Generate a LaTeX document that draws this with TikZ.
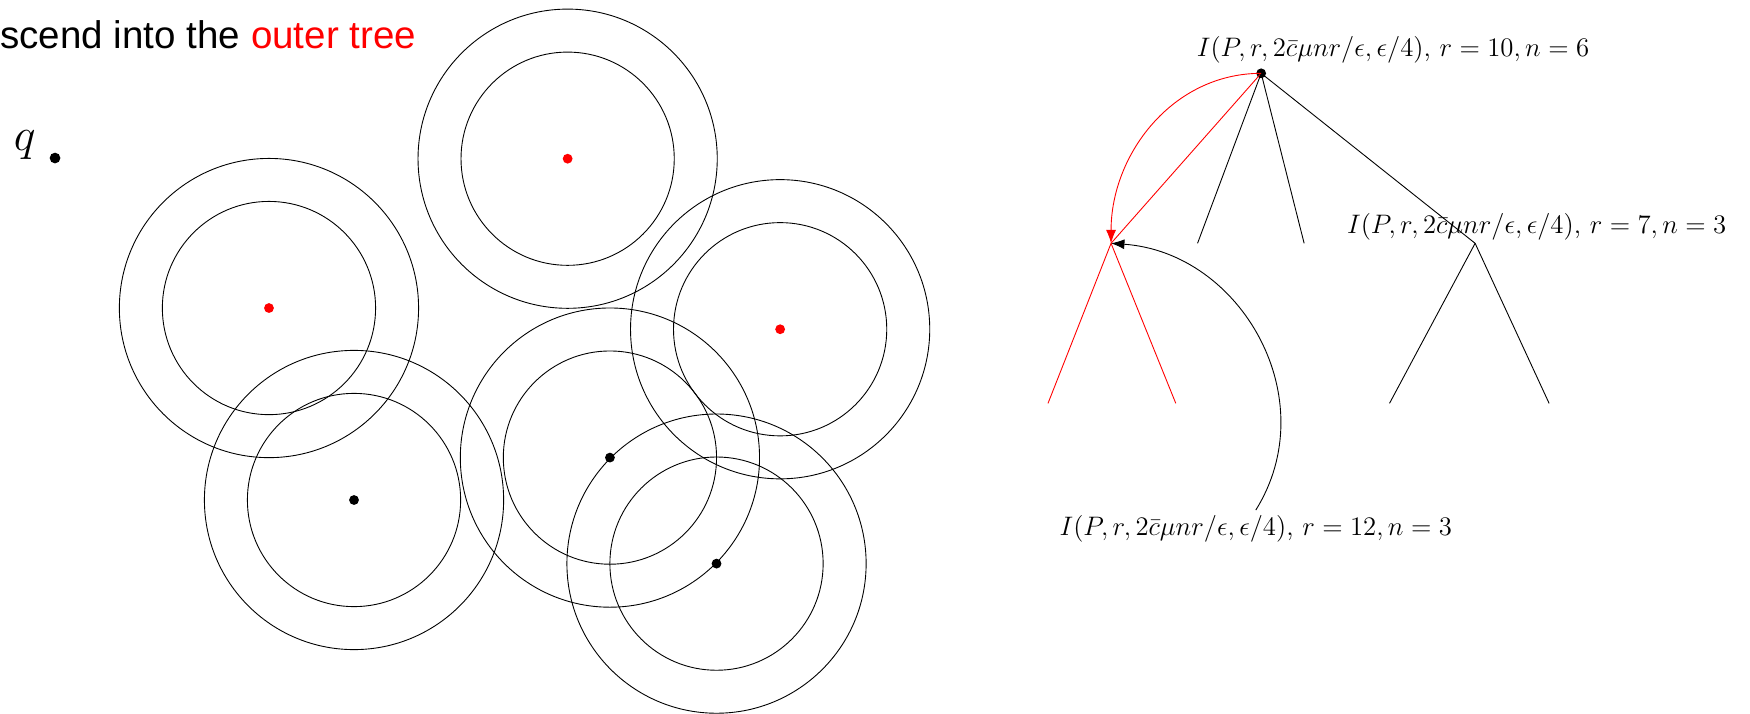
\documentclass[tikz,border=0pt]{standalone}
\usepackage{fontspec}
\setsansfont{Liberation Sans}
\usepackage{tikz}
\usetikzlibrary{arrows.meta}

\begin{document}
\begin{tikzpicture}[x=0.0176cm, y=0.0176cm,
    dot/.style={circle, fill, inner sep=0pt, minimum size=4.4pt},
    lbl/.style={anchor=base west, inner sep=2pt, font=\large},
    tip/.style={-{Latex[length=6pt,width=4.5pt]}}]
\useasboundingbox (0,0) rectangle (1568,639);
\def\ro{2.3584cm}
\def\ri{1.6808cm}

\foreach \cx/\cy/\col in {508.6/496.8/red, 241/363/red, 317.2/191/black,
                          699/344/red, 546.5/229/black, 642/134/black}{
    \draw (\cx,\cy) circle[radius=\ro];
    \draw (\cx,\cy) circle[radius=\ri];
    \fill[\col] (\cx,\cy) circle[radius=2.2pt];
}

\node[anchor=base west, inner sep=0pt, font=\sffamily\LARGE] (title) at (0,595.7)
    {scend into the \textcolor{red}{outer tree}};
\node[anchor=base west, inner sep=0pt, font=\huge] (q) at (12,504) {$q$};
\node[dot, minimum size=4.8pt] (qpt) at (49.3,497.4) {};

\node[dot] (root) at (1130,573.3) {};
\coordinate (u1) at (995.5,421);
\coordinate (u2) at (1073,421);
\coordinate (u3) at (1168.5,421);
\coordinate (u4) at (1321.7,421);
\coordinate (l1) at (939,277.6);
\coordinate (l2) at (1053.5,277.6);
\coordinate (l3) at (1245,277.6);
\coordinate (l4) at (1388,277.6);

\draw[red] (root.center) -- (u1);
\draw (root.center) -- (u2);
\draw (root.center) -- (u3);
\draw (root.center) -- (u4);
\draw[red] (u1) -- (l1);
\draw[red] (u1) -- (l2);
\draw (u4) -- (l3);
\draw (u4) -- (l4);

\node[lbl] (lab10) at (1068,588.4)
    {$I(P,r,2\bar{c}\mu nr/\epsilon,\epsilon/4)$, $r=10,n=6$};
\node[lbl] (lab7) at (1202.6,430)
    {$I(P,r,2\bar{c}\mu nr/\epsilon,\epsilon/4)$, $r=7,n=3$};
\node[lbl] (lab12) at (945,159.6)
    {$I(P,r,2\bar{c}\mu nr/\epsilon,\epsilon/4)$, $r=12,n=3$};

\draw[red, tip] (root.center) to[out=180, in=90] (u1);
\draw[tip] (lab12.north) to[out=58, in=-4, looseness=1.1] (u1);
\end{tikzpicture}
\end{document}
